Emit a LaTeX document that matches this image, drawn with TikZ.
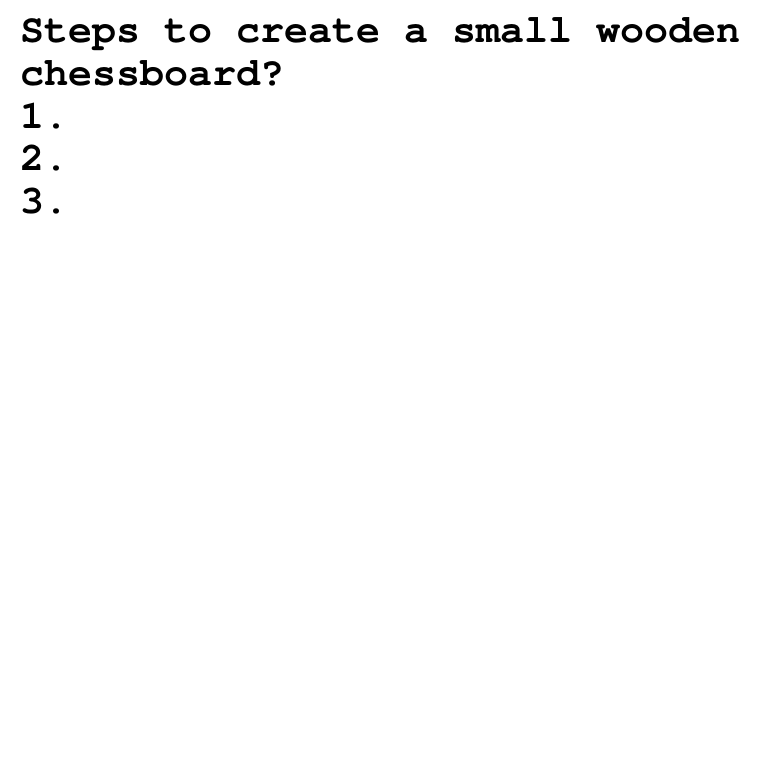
\documentclass[tikz,border=0pt]{standalone}
\usepackage{fontspec}
\setmonofont{texgyrecursor}[Extension=.otf,UprightFont=*-regular,BoldFont=*-bold]
\usepackage{tikz}
\tikzset{steptext/.style={anchor=base west,inner sep=0pt,outer sep=0pt,font=\ttfamily\bfseries\fontsize{40}{42.7}\selectfont}}
\begin{document}
\begin{tikzpicture}[line cap=round,line join=round,x=1pt,y=1pt]
            \useasboundingbox (0,0) rectangle (760,760);
            \node[steptext] (title) at (20,717.3) {Steps to create a small wooden};
            \node[steptext] (titlecont) at (20,674.6) {chessboard?};
            \node[steptext] (stepone) at (20,631.9) {1.};
            \node[steptext] (steptwo) at (20,589.2) {2.};
            \node[steptext] (stepthree) at (20,546.5) {3.};
            \end{tikzpicture}
\end{document}
